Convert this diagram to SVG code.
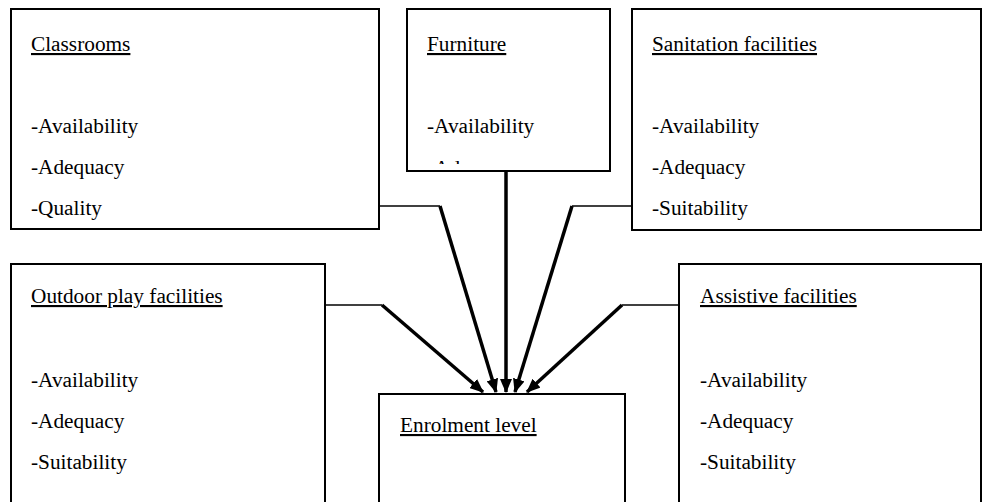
<svg xmlns="http://www.w3.org/2000/svg" width="984" height="502" viewBox="0 0 984 502">
<style>
.box{fill:#fff;stroke:#000;stroke-width:2}
.t{font-family:"Liberation Serif","Times New Roman",serif;font-size:21.3px;fill:#000}
.u{text-decoration:underline}
.thin{fill:none;stroke:#000;stroke-width:1.6}
.thick{fill:none;stroke:#000;stroke-width:3.5;marker-end:url(#ah)}
</style>
<defs>
<marker id="ah" markerUnits="userSpaceOnUse" markerWidth="14" markerHeight="12" refX="13" refY="6" orient="auto">
<path d="M0,0 L14,6 L0,12 z" fill="#000"/>
</marker>
<clipPath id="fclip"><rect x="408" y="10" width="201" height="154"/></clipPath>
</defs>
<g id="classrooms">
<rect class="box" x="11" y="9" width="368" height="220"/>
<text class="t u" x="31" y="51">Classrooms</text>
<text class="t" x="31" y="133">-Availability</text>
<text class="t" x="31" y="174">-Adequacy</text>
<text class="t" x="31" y="215">-Quality</text>
</g>
<g id="furniture">
<rect class="box" x="407" y="9" width="203" height="162"/>
<text class="t u" x="427" y="51">Furniture</text>
<text class="t" x="427" y="133">-Availability</text>
<text class="t" x="427" y="175" clip-path="url(#fclip)">-Adequacy</text>
</g>
<g id="sanitation">
<rect class="box" x="632" y="9" width="349" height="221"/>
<text class="t u" x="652" y="51">Sanitation facilities</text>
<text class="t" x="652" y="133">-Availability</text>
<text class="t" x="652" y="174">-Adequacy</text>
<text class="t" x="652" y="215">-Suitability</text>
</g>
<g id="outdoor">
<rect class="box" x="11" y="264" width="314" height="250"/>
<text class="t u" x="31" y="303">Outdoor play facilities</text>
<text class="t" x="31" y="387">-Availability</text>
<text class="t" x="31" y="428">-Adequacy</text>
<text class="t" x="31" y="469">-Suitability</text>
</g>
<g id="assistive">
<rect class="box" x="679" y="264" width="302" height="250"/>
<text class="t u" x="700" y="303">Assistive facilities</text>
<text class="t" x="700" y="387">-Availability</text>
<text class="t" x="700" y="428">-Adequacy</text>
<text class="t" x="700" y="469">-Suitability</text>
</g>
<g id="enrolment">
<rect class="box" x="379" y="394" width="246" height="130"/>
<text class="t u" x="400" y="432">Enrolment level</text>
</g>
<g id="connectors">
<path class="thin" d="M325,305 H382"/>
<path class="thick" d="M382,305 L483,392"/>
<path class="thin" d="M379,206 H440"/>
<path class="thick" d="M440,206 L496,392"/>
<path class="thick" d="M506,171 L506,392"/>
<path class="thin" d="M632,206 H572"/>
<path class="thick" d="M572,206 L515,392"/>
<path class="thin" d="M679,305 H622"/>
<path class="thick" d="M622,305 L527,392"/>
</g>
</svg>
